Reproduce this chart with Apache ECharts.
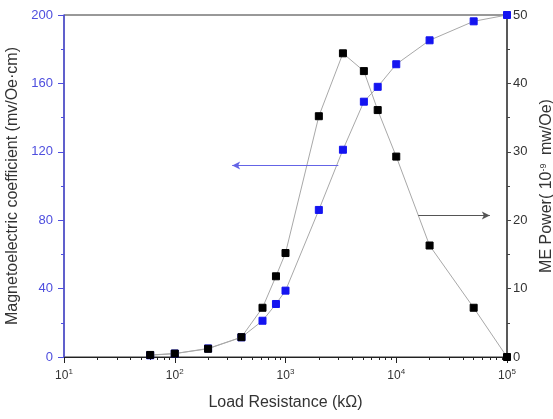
<!DOCTYPE html>
<html>
<head>
<meta charset="utf-8">
<script src="https://cdn.jsdelivr.net/npm/echarts@6/dist/echarts.min.js"></script>
<style>
  html, body { margin: 0; padding: 0; background: #fff; }
  #chart { width: 553px; height: 419px; }
</style>
</head>
<body>
<div id="chart"></div>
<script>
// Load resistance (kΩ)
const resistance = [60, 100, 200, 400, 620, 820, 1000, 2000, 3300, 5100, 6800, 10000, 20000, 50000, 100000];
// Magnetoelectric coefficient (mv/Oe·cm), left axis
const meCoefficient = [1, 2, 5, 11.5, 21.2, 31, 38.8, 86, 121.2, 149.3, 158, 171.2, 185.2, 196.3, 200];
// ME power (10^-9 mw/Oe), right axis
const mePower = [0.3, 0.5, 1.2, 2.9, 7.2, 11.8, 15.2, 35.2, 44.4, 41.8, 36.1, 29.3, 16.3, 7.2, 0];

// Axis ticks
const decadeTicks = [10, 100, 1000, 10000, 100000];
const coefficientTicks = [0, 40, 80, 120, 160, 200];
const powerTicks = [0, 10, 20, 30, 40, 50];

// Annotation arrows pointing to each series' axis (data coordinates)
const coefficientArrow = [[3000, 112], [330, 112]];
const powerArrow = [[15800, 20.7], [70000, 20.7]];

// Minor ticks at 2..9 within every decade
const minorDecadeTicks = [];
for (let d = 0; d < decadeTicks.length - 1; d++) {
  for (let m = 2; m <= 9; m++) minorDecadeTicks.push(decadeTicks[d] * m);
}

const FONT = "'Liberation Sans', Arial, sans-serif";
const BLUE_AXIS = '#4e4ede';
const DARK = '#333333';
const PLOT_BOX = { left: 64, right: 46, top: 15, bottom: 62, outerBoundsMode: 'none', containLabel: false };

const chart = echarts.init(document.getElementById('chart'), null, { renderer: 'canvas' });

chart.setOption({
  animation: false,
  backgroundColor: '#ffffff',
  grid: [
    Object.assign({ show: true, borderColor: '#333', borderWidth: 1, backgroundColor: 'transparent' }, PLOT_BOX),
    // overlay grid carrying only the minor log ticks of the bottom axis
    Object.assign({ show: false }, PLOT_BOX)
  ],
  xAxis: [
    {
      gridIndex: 0,
      type: 'log', logBase: 10, min: 10, max: 100000,
      name: 'Load Resistance (kΩ)', nameLocation: 'middle', nameGap: 38,
      nameTextStyle: { fontFamily: FONT, fontSize: 16, color: DARK },
      axisLine: { show: true, lineStyle: { color: '#222', width: 1 } },
      axisTick: { show: true, inside: false, length: 6, customValues: decadeTicks, lineStyle: { color: '#222' } },
      axisLabel: {
        customValues: decadeTicks,
        margin: 11,
        fontFamily: FONT, fontSize: 12, color: DARK,
        formatter: v => '10{sup|' + Math.round(Math.log10(v)) + '}',
        rich: { sup: { fontSize: 8, fontFamily: FONT, color: DARK, padding: [0, 0, 7, 0] } }
      },
      splitLine: { show: false }
    },
    {
      gridIndex: 1,
      type: 'log', logBase: 10, min: 10, max: 100000, position: 'bottom',
      axisLine: { show: false },
      axisTick: { show: true, inside: false, length: 3, customValues: minorDecadeTicks, lineStyle: { color: '#222' } },
      axisLabel: { show: false, customValues: minorDecadeTicks },
      splitLine: { show: false }
    }
  ],
  yAxis: [
    {
      gridIndex: 0,
      type: 'value', min: 0, max: 200, interval: 40, position: 'left',
      name: 'Magnetoelectric coefficient (mv/Oe·cm)', nameLocation: 'middle', nameGap: 41, nameRotate: 90,
      nameTextStyle: { fontFamily: FONT, fontSize: 16, color: DARK },
      axisLine: { show: true, lineStyle: { color: BLUE_AXIS, width: 1.5 } },
      axisTick: { show: true, inside: false, length: 6, lineStyle: { color: BLUE_AXIS } },
      minorTick: { show: true, splitNumber: 2, length: 3, lineStyle: { color: BLUE_AXIS } },
      axisLabel: {
        customValues: coefficientTicks,
        margin: 11, fontFamily: FONT, fontSize: 13, color: BLUE_AXIS
      },
      splitLine: { show: false }, minorSplitLine: { show: false }
    },
    {
      gridIndex: 0,
      type: 'value', min: 0, max: 50, interval: 10, position: 'right',
      name: 'ME Power( 10{sup|-9} mw/Oe)', nameLocation: 'middle', nameGap: 29, nameRotate: 90,
      nameTextStyle: {
        fontFamily: FONT, fontSize: 16, color: DARK, lineHeight: 16,
        rich: { sup: { fontSize: 9, fontFamily: FONT, color: DARK, lineHeight: 16, padding: [0, 4, 6, 0] } }
      },
      axisLine: { show: true, lineStyle: { color: '#444', width: 1.5 } },
      axisTick: { show: true, inside: false, length: 4, lineStyle: { color: '#444' } },
      minorTick: { show: true, splitNumber: 2, length: 3, lineStyle: { color: '#444' } },
      axisLabel: {
        customValues: powerTicks,
        margin: 6, fontFamily: FONT, fontSize: 13, color: DARK
      },
      splitLine: { show: false }, minorSplitLine: { show: false }
    },
    {
      gridIndex: 1,
      type: 'value', min: 0, max: 1, show: false
    }
  ],
  series: [
    {
      name: 'Magnetoelectric coefficient',
      type: 'line', xAxisIndex: 0, yAxisIndex: 0,
      data: resistance.map((r, i) => [r, meCoefficient[i]]),
      symbol: 'rect', symbolSize: 7,
      itemStyle: { color: '#1414f0', borderColor: '#1414f0' },
      lineStyle: { color: '#a8a8a8', width: 1 },
      z: 3,
      markLine: {
        silent: true, animation: false,
        symbol: ['none', 'arrow'], symbolSize: [6, 8],
        label: { show: false },
        lineStyle: { color: '#6464e6', width: 1, type: 'solid' },
        data: [[
          { coord: coefficientArrow[0] },
          { coord: coefficientArrow[1] }
        ]]
      }
    },
    {
      name: 'ME Power',
      type: 'line', xAxisIndex: 0, yAxisIndex: 1,
      data: resistance.map((r, i) => [r, mePower[i]]),
      symbol: 'rect', symbolSize: 7,
      itemStyle: { color: '#000000', borderColor: '#000000' },
      lineStyle: { color: '#a8a8a8', width: 1 },
      z: 4,
      markLine: {
        silent: true, animation: false,
        symbol: ['none', 'arrow'], symbolSize: [6, 8],
        label: { show: false },
        lineStyle: { color: '#555555', width: 1, type: 'solid' },
        data: [[
          { coord: powerArrow[0] },
          { coord: powerArrow[1] }
        ]]
      }
    }
  ]
});
</script>
</body>
</html>
